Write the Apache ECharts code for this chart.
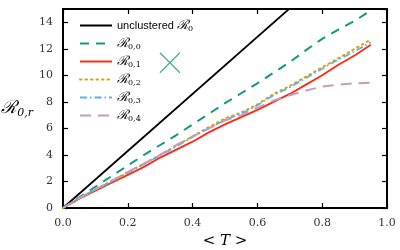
<!DOCTYPE html>
<html><head><meta charset="utf-8">
<script src="https://cdn.jsdelivr.net/npm/echarts@6/dist/echarts.min.js"></script>
<style>html,body{margin:0;padding:0;background:#fff}#c{width:400px;height:250px}</style>
</head><body><div id="c"></div>
<script>
var tVals = [0,0.05,0.1,0.15,0.2,0.25,0.3,0.35,0.4,0.45,0.5,0.55,0.6,0.65,0.7,0.75,0.8,0.85,0.9,0.95];
var unclusteredT = [0, 0.7];
var unclustered = [0, 15.05];
var r00 = [0,0.8,1.6,2.4,3.2,4.0,4.75,5.5,6.3,7.1,7.9,8.65,9.4,10.2,11.0,11.9,12.75,13.45,14.1,14.9];
var r01 = [0,0.7,1.3,1.9,2.5,3.1,3.8,4.4,5.0,5.7,6.3,6.85,7.4,8.0,8.6,9.3,10.0,10.8,11.5,12.3];
var r02 = [0,0.75,1.4,2.05,2.7,3.35,4.0,4.7,5.4,6.1,6.75,7.2,7.8,8.6,9.2,9.9,10.6,11.3,12.0,12.7];
var r03 = [0,0.75,1.4,2.0,2.65,3.3,3.95,4.65,5.35,6.0,6.65,7.1,7.75,8.5,9.1,9.8,10.5,11.2,11.8,12.5];
var r04 = [0,0.75,1.4,2.05,2.7,3.35,4.0,4.75,5.4,6.0,6.6,7.0,7.55,8.1,8.5,8.85,9.15,9.3,9.4,9.45];
var markerPoint = [[0.33, 10.95]];

function pairs(xs, ys){ return ys.map(function(v,i){return [xs[i], v];}); }

var serif = '"DejaVu Serif","Liberation Serif",serif';
var chart = echarts.init(document.getElementById('c'), null, {renderer:'canvas'});
function axisCommon(){ return {
  axisLine:{show:true, onZero:false, lineStyle:{color:'#000', width:2}},
  axisTick:{show:true, inside:true, length:5, lineStyle:{color:'#000', width:1.2}},
  splitLine:{show:false}
};}
function lineSeries(name, data, color, type, width, cap){
  return {name:name, type:'line', data:data, showSymbol:false, symbol:'none', smooth:false,
    lineStyle:{color:color, width:width, type:type, cap:cap||'butt'}, itemStyle:{color:color},
    clip:true, animation:false, z:3};
}
var rich = {
  t:{fontFamily:'"Liberation Sans",sans-serif', fontSize:11, color:'#000'},
  r:{fontFamily:serif, fontSize:13, fontStyle:'italic', color:'#000'},
  s:{fontFamily:serif, fontSize:8, color:'#000', verticalAlign:'bottom', padding:[6,0,0,0]}
};
var legendNames = {
  'unclustered':'{t|unclustered }{r|ℛ}{s|0}',
  'r00':'{r|ℛ}{s|0,0}','r01':'{r|ℛ}{s|0,1}','r02':'{r|ℛ}{s|0,2}','r03':'{r|ℛ}{s|0,3}','r04':'{r|ℛ}{s|0,4}'
};
chart.setOption({
  animation:false,
  grid:{left:63, right:13, top:9, bottom:42, containLabel:false, outerBoundsMode:'none'},
  legend:{
    show:true,
    left:74, top:14, orient:'vertical', itemWidth:32, itemHeight:10, itemGap:4.5,
    itemStyle:{opacity:0, borderWidth:0},
    data:['unclustered','r00','r01','r02','r03','r04'],
    formatter:function(n){return legendNames[n];},
    textStyle:{rich:rich}
  },
  xAxis:[
    Object.assign({type:'value', gridIndex:0, min:0, max:1, interval:0.2, position:'bottom',
      axisLabel:{color:'#333', fontFamily:serif, fontSize:11, margin:10, formatter:function(v){return v.toFixed(1);}},
      name:'< T >', nameLocation:'middle', nameGap:26,
      nameTextStyle:{fontFamily:serif, fontSize:15, fontStyle:'italic', color:'#000'}}, axisCommon()),
    Object.assign({type:'value', gridIndex:0, min:0, max:1, interval:0.2, position:'top', axisLabel:{show:false}}, axisCommon())
  ],
  yAxis:[
    Object.assign({type:'value', gridIndex:0, min:0, max:15, interval:2, position:'left',
      axisLabel:{color:'#333', fontFamily:serif, fontSize:11, margin:10, showMaxLabel:false},
      name:'{r|ℛ}{s|0,r}', nameLocation:'middle', nameGap:18, nameRotate:0,
      nameTextStyle:{rich:{r:{fontFamily:serif, fontSize:18, fontStyle:'italic', color:'#000'}, s:{fontFamily:serif, fontSize:11, fontStyle:'italic', color:'#000', padding:[10,0,0,0]}}}}, axisCommon()),
    Object.assign({type:'value', gridIndex:0, min:0, max:15, interval:2, position:'right', axisLabel:{show:false}}, axisCommon())
  ],
  series:[
    lineSeries('unclustered', pairs(unclusteredT, unclustered), '#000000', 'solid', 1.8),
    lineSeries('r00', pairs(tVals, r00), '#12997a', [9,7], 2),
    lineSeries('r01', pairs(tVals, r01), '#ff2a12', 'solid', 1.8),
    lineSeries('r02', pairs(tVals, r02), '#e69f00', [1.5,4], 2, 'round'),
    lineSeries('r03', pairs(tVals, r03), '#56b4e9', [7,3,1.5,3], 1.8),
    lineSeries('r04', pairs(tVals, r04), '#cc99bb', [11,7], 2),
    {type:'scatter', data:markerPoint, symbol:'path://M0,0L10,10M10,0L0,10', symbolSize:20,
      itemStyle:{color:'none', borderColor:'#12997a', borderWidth:1.2}, silent:true, z:4}
  ]
});
</script></body></html>
